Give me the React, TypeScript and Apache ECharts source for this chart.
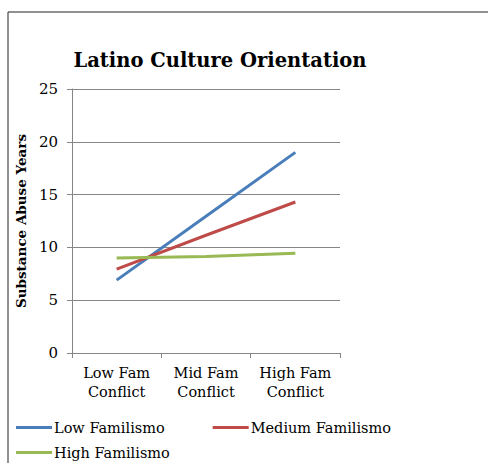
import React, { useEffect, useRef } from "react";
import * as echarts from "echarts";

const categories = ["Low Fam\nConflict", "Mid Fam\nConflict", "High Fam\nConflict"];
const lowFamilismo = [6.9, 12.95, 19.0];
const mediumFamilismo = [7.95, 11.15, 14.3];
const highFamilismo = [9.0, 9.15, 9.45];
const seriesNames = ["Low Familismo", "Medium Familismo", "High Familismo"];
const seriesColors = ["#4A7EBB", "#BE4B48", "#98B954"];

const FONT = "DejaVu Serif";

export default function App() {
  const ref = useRef<HTMLDivElement>(null);
  useEffect(() => {
    document.body.style.margin = "0";
    const chart = echarts.init(ref.current!, null, { renderer: "svg" });
    const data = [lowFamilismo, mediumFamilismo, highFamilismo];
    const legendBase = {
      icon: "rect",
      itemWidth: 36,
      itemHeight: 3,
      padding: 0,
      textStyle: { fontFamily: FONT, fontSize: 14.5, color: "#000", padding: [0, 0, 0, -3] },
    };
    chart.setOption({
      animation: false,
      backgroundColor: "#ffffff",
      title: {
        text: "Latino Culture Orientation",
        left: 215,
        textAlign: "center",
        top: 45,
        textStyle: { fontFamily: FONT, fontWeight: "bold", fontSize: 19.5, color: "#000" },
      },
      graphic: [
        {
          type: "rect",
          shape: { x: 8, y: 12, width: 520, height: 500 },
          style: { fill: "none", stroke: "#222", lineWidth: 1 },
          silent: true,
        },
      ],
      grid: { left: 72, top: 89, right: 148, bottom: 110 },
      legend: [
        {
          ...legendBase,
          data: [seriesNames[0], seriesNames[1]],
          left: 16,
          top: 420,
          itemGap: 48,
        },
        {
          ...legendBase,
          data: [seriesNames[2]],
          left: 16,
          top: 445,
        },
      ],
      xAxis: {
        type: "category",
        data: categories,
        boundaryGap: true,
        axisLine: { lineStyle: { color: "#868686" } },
        axisTick: { show: true, length: 5, lineStyle: { color: "#868686" } },
        axisLabel: {
          interval: 0,
          fontFamily: FONT,
          fontSize: 14.5,
          color: "#000",
          lineHeight: 19,
          margin: 10,
        },
        splitLine: { show: false },
      },
      yAxis: {
        type: "value",
        min: 0,
        max: 25,
        interval: 5,
        name: "Substance Abuse Years",
        nameLocation: "middle",
        nameGap: 38,
        nameTextStyle: { fontFamily: FONT, fontWeight: "bold", fontSize: 13.5, color: "#000" },
        axisLine: { show: true, lineStyle: { color: "#868686" } },
        axisTick: { show: true, length: 5, lineStyle: { color: "#868686" } },
        axisLabel: { fontFamily: FONT, fontSize: 15, color: "#000", margin: 14 },
        splitLine: { lineStyle: { color: "#868686" } },
      },
      series: seriesNames.map((name, i) => ({
        name,
        type: "line",
        data: data[i],
        symbol: "none",
        showSymbol: false,
        lineStyle: { color: seriesColors[i], width: 3 },
        itemStyle: { color: seriesColors[i] },
      })),
    });
    return () => chart.dispose();
  }, []);
  return <div ref={ref} style={{ width: 488, height: 463 }} />;
}
